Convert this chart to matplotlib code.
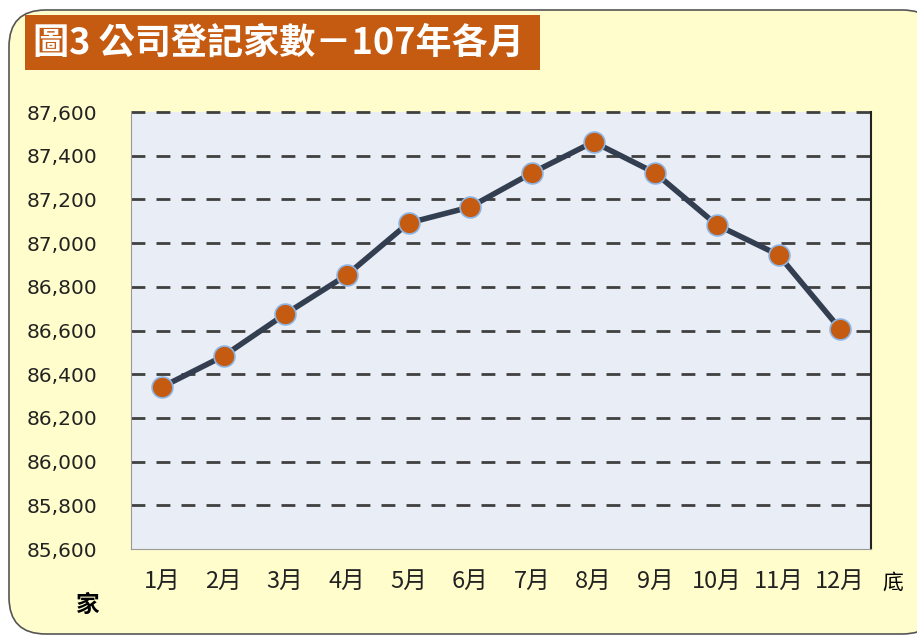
import matplotlib.pyplot as plt
import matplotlib.patches as mpatches
from matplotlib.ticker import FuncFormatter

plt.rcParams['font.family'] = ['Noto Sans CJK TC', 'DejaVu Sans']

# Data
months = ['1月', '2月', '3月', '4月', '5月', '6月', '7月', '8月', '9月', '10月', '11月', '12月']
counts = [86341, 86483, 86675, 86854, 87092, 87165, 87321, 87463, 87321, 87083, 86946, 86607]
y_ticks = [85600, 85800, 86000, 86200, 86400, 86600, 86800, 87000, 87200, 87400, 87600]

title = '圖3 公司登記家數－107年各月'

fig = plt.figure(figsize=(9.17, 6.37), dpi=100)
fig.patch.set_facecolor('white')

# Rounded background panel
bg = mpatches.FancyBboxPatch((9 / 917, 3 / 637), 930 / 917, 624 / 637,
                             boxstyle='round,pad=0,rounding_size=0.04',
                             transform=fig.transFigure, facecolor='#FFFDCC',
                             edgecolor='#555555', linewidth=1.2, zorder=-2,
                             mutation_aspect=917 / 637)
fig.patches.append(bg)

# Title box
title_box = mpatches.Rectangle((25 / 917, 1 - 70 / 637), 515 / 917, 55 / 637,
                               transform=fig.transFigure, facecolor='#C55A11',
                               edgecolor='none', zorder=-1)
fig.patches.append(title_box)
fig.text(33 / 917, 1 - 43 / 637, title, color='white', fontsize=26,
         fontweight='bold', va='center', ha='left', zorder=2)

ax = fig.add_axes([131 / 917, 1 - 549 / 637, 740 / 917, 437 / 637])
ax.set_zorder(1)
ax.set_facecolor('#E9EDF5')

x = range(len(months))
ax.plot(x, counts, color='#333F50', linewidth=4, zorder=3,
        marker='o', markersize=15, markerfacecolor='#C55A11',
        markeredgecolor='#8DB4E2', markeredgewidth=1.2)

ax.set_xlim(-0.5, len(months) - 0.5)
ax.set_ylim(85600, 87600)
ax.set_yticks(y_ticks)
ax.yaxis.set_major_formatter(FuncFormatter(lambda v, p: f'{int(v):,}'))
ax.set_xticks(list(x))
ax.set_xticklabels(months)
ax.tick_params(axis='both', length=0, colors='#222222')
ax.tick_params(axis='x', pad=15, labelsize=17)
ax.tick_params(axis='y', pad=24, labelsize=14.5)
for lbl in ax.get_yticklabels():
    lbl.set_family(['DejaVu Sans'])

# Dashed gridlines
for v in y_ticks[1:]:
    ax.axhline(v, color='#404040', linestyle=(0, (5, 4)), linewidth=2,
               zorder=1, clip_on=False)

ax.spines['top'].set_visible(False)
ax.spines['left'].set_color('#999999')
ax.spines['bottom'].set_color('#999999')
ax.spines['right'].set_color('#222222')
ax.spines['right'].set_linewidth(1.5)

# Unit labels
fig.text(88 / 917, 1 - 605 / 637, '家', fontsize=17, fontweight='bold',
         ha='center', va='center')
fig.text(893 / 917, 1 - 583 / 637, '底', fontsize=15, ha='center', va='center')

plt.savefig('out.png', dpi=100)
